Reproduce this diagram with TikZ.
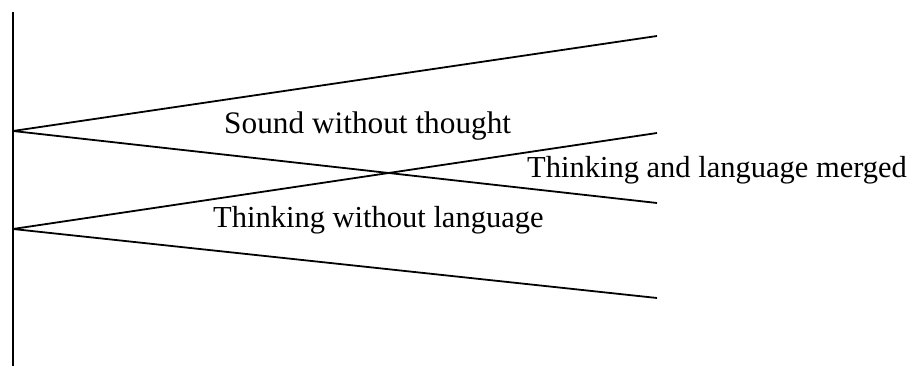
\documentclass[tikz,border=0pt]{standalone}
\usepackage{fontspec}
\setmainfont{Liberation Serif}
\begin{document}
\begin{tikzpicture}[x=1pt,y=1pt,
  axisline/.style={line width=2pt},
  ray/.style={line width=1.8pt},
  lbl/.style={anchor=base west,inner sep=0pt,font=\fontsize{30.5}{34}\selectfont}]
\useasboundingbox (0,0) rectangle (911,366);
% y = 366 - ypx
\coordinate (vtop) at (13,354);
\coordinate (vbot) at (13,0);
\coordinate (o1) at (13,235);
\coordinate (o2) at (13,137);
\coordinate (e1) at (657,330);
\coordinate (e2) at (657,233);
\coordinate (e3) at (657,163);
\coordinate (e4) at (657,68);
\draw[axisline] (vtop) -- (vbot);
\draw[ray] (o1) -- (e1);
\draw[ray] (o1) -- (e3);
\draw[ray] (o2) -- (e2);
\draw[ray] (o2) -- (e4);
\node[lbl,font=\fontsize{31.3}{34}\selectfont] (sound) at (224,232) {Sound without thought};
\node[lbl] (merged) at (527,188) {Thinking and language merged};
\node[lbl] (thinking) at (213,138) {Thinking without language};
\end{tikzpicture}
\end{document}
